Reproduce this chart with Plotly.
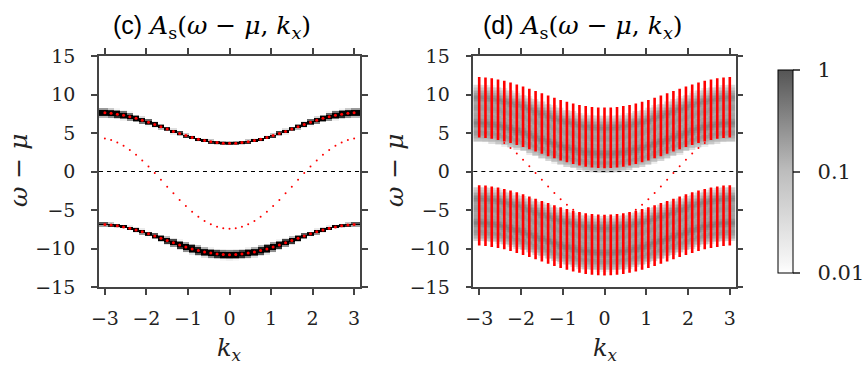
import numpy as np
import plotly.graph_objects as go

# ---------------- data ----------------
kx = [-3.0, -2.85, -2.7, -2.55, -2.4, -2.25, -2.1, -1.95, -1.8, -1.65, -1.5, -1.35, -1.2, -1.05,
      -0.9, -0.75, -0.6, -0.45, -0.3, -0.15, 0.0, 0.15, 0.3, 0.45, 0.6, 0.75, 0.9, 1.05, 1.2, 1.35,
      1.5, 1.65, 1.8, 1.95, 2.1, 2.25, 2.4, 2.55, 2.7, 2.85, 3.0]

# panel (c): band energies
upper_c = [7.62, 7.56, 7.45, 7.30, 7.12, 6.90, 6.65, 6.39, 6.10, 5.81, 5.51, 5.21, 4.93, 4.66, 4.41,
           4.19, 4.01, 3.86, 3.75, 3.68, 3.66, 3.68, 3.75, 3.86, 4.01, 4.19, 4.41, 4.66, 4.93, 5.21,
           5.51, 5.81, 6.10, 6.39, 6.65, 6.90, 7.12, 7.30, 7.45, 7.56, 7.62]
lower_c = [-6.88, -6.94, -7.05, -7.20, -7.38, -7.59, -7.84, -8.10, -8.38, -8.67, -8.97, -9.26, -9.54,
           -9.81, -10.05, -10.27, -10.46, -10.60, -10.71, -10.78, -10.80, -10.78, -10.71, -10.60,
           -10.46, -10.27, -10.05, -9.81, -9.54, -9.26, -8.97, -8.67, -8.38, -8.10, -7.84, -7.59,
           -7.38, -7.20, -7.05, -6.94, -6.88]
mid_c = [4.29, 4.10, 3.78, 3.35, 2.80, 2.16, 1.43, 0.64, -0.21, -1.08, -1.97, -2.84, -3.69, -4.49,
         -5.22, -5.87, -6.42, -6.86, -7.19, -7.38, -7.45, -7.38, -7.19, -6.86, -6.42, -5.87, -5.22,
         -4.49, -3.69, -2.84, -1.97, -1.08, -0.21, 0.64, 1.43, 2.16, 2.80, 3.35, 3.78, 4.10, 4.29]
width_upper_c = [0.20, 0.20, 0.20, 0.19, 0.18, 0.17, 0.16, 0.15, 0.13, 0.12, 0.11, 0.10, 0.09, 0.09,
                 0.09, 0.09, 0.09, 0.09, 0.09, 0.09, 0.09, 0.09, 0.09, 0.09, 0.09, 0.09, 0.09, 0.09,
                 0.09, 0.10, 0.11, 0.12, 0.13, 0.15, 0.16, 0.17, 0.18, 0.19, 0.20, 0.20, 0.20]
width_lower_c = [0.09, 0.09, 0.09, 0.09, 0.09, 0.10, 0.11, 0.12, 0.14, 0.16, 0.18, 0.19, 0.20, 0.21,
                 0.22, 0.22, 0.22, 0.22, 0.22, 0.22, 0.22, 0.22, 0.22, 0.22, 0.22, 0.22, 0.22, 0.21,
                 0.20, 0.19, 0.18, 0.16, 0.14, 0.12, 0.11, 0.10, 0.09, 0.09, 0.09, 0.09, 0.09]

# panel (d): band-cluster edges and middle band
upper_top_d = [12.28, 12.22, 12.11, 11.96, 11.77, 11.56, 11.31, 11.04, 10.75, 10.46, 10.16, 9.86, 9.58,
               9.30, 9.06, 8.84, 8.65, 8.50, 8.39, 8.32, 8.30, 8.32, 8.39, 8.50, 8.65, 8.84, 9.06,
               9.30, 9.58, 9.86, 10.16, 10.46, 10.75, 11.04, 11.31, 11.56, 11.77, 11.96, 12.11,
               12.22, 12.28]
upper_bot_d = [4.41, 4.35, 4.24, 4.09, 3.90, 3.69, 3.44, 3.17, 2.88, 2.59, 2.29, 1.99, 1.71, 1.43,
               1.19, 0.97, 0.78, 0.63, 0.52, 0.45, 0.43, 0.45, 0.52, 0.63, 0.78, 0.97, 1.19, 1.43,
               1.71, 1.99, 2.29, 2.59, 2.88, 3.17, 3.44, 3.69, 3.90, 4.09, 4.24, 4.35, 4.41]
lower_top_d = [-1.77, -1.83, -1.94, -2.08, -2.26, -2.47, -2.71, -2.96, -3.24, -3.53, -3.82, -4.10,
               -4.38, -4.64, -4.88, -5.09, -5.27, -5.42, -5.52, -5.59, -5.61, -5.59, -5.52, -5.42,
               -5.27, -5.09, -4.88, -4.64, -4.38, -4.10, -3.82, -3.53, -3.24, -2.96, -2.71, -2.47,
               -2.26, -2.08, -1.94, -1.83, -1.77]
lower_bot_d = [-9.62, -9.68, -9.79, -9.93, -10.11, -10.33, -10.57, -10.83, -11.11, -11.40, -11.69,
               -11.98, -12.26, -12.52, -12.76, -12.98, -13.16, -13.31, -13.41, -13.48, -13.50,
               -13.48, -13.41, -13.31, -13.16, -12.98, -12.76, -12.52, -12.26, -11.98, -11.69,
               -11.40, -11.11, -10.83, -10.57, -10.33, -10.11, -9.93, -9.79, -9.68, -9.62]
mid_d = [5.19, 5.00, 4.68, 4.25, 3.70, 3.06, 2.33, 1.54, 0.69, -0.18, -1.07, -1.94, -2.79, -3.59,
         -4.32, -4.97, -5.52, -5.96, -6.29, -6.48, -6.55, -6.48, -6.29, -5.96, -5.52, -4.97, -4.32,
         -3.59, -2.79, -1.94, -1.07, -0.18, 0.69, 1.54, 2.33, 3.06, 3.70, 4.25, 4.68, 5.00, 5.19]

# texture of the spectral weight inside a cluster (fraction of cluster span, relative weight)
sub_frac = [0.00, 0.05, 0.10, 0.15, 0.21, 0.26, 0.31, 0.36, 0.41, 0.46, 0.52, 0.57, 0.62, 0.67,
            0.72, 0.77, 0.82, 0.87, 0.92, 0.97]
sub_weight = [0.20, 0.30, 0.45, 0.55, 0.40, 0.65, 0.85, 0.55, 0.35, 0.45, 0.40, 0.50, 0.45, 0.35,
              0.55, 0.75, 0.50, 0.30, 0.15, 0.08]

tick_vals_x = [-3, -2, -1, 0, 1, 2, 3]
tick_text_x = ["\u22123", "\u22122", "\u22121", "0", "1", "2", "3"]
tick_vals_y = [-15, -10, -5, 0, 5, 10, 15]
tick_text_y = ["\u221215", "\u221210", "\u22125", "0", "5", "10", "15"]
cb_vals = [-2, -1, 0]
cb_text = ["  0.01", "  0.1", "  1"]

# ---------------- heatmap tables ----------------
K = np.array(kx)
mids = (K[1:] + K[:-1]) / 2
k_edges = np.concatenate([[-np.pi], mids, [np.pi]])
w_step = 0.2
w_edges = np.arange(-15.0, 15.0 + w_step / 2, w_step)
w_cent = (w_edges[1:] + w_edges[:-1]) / 2
W = w_cent[:, None]

A_c = np.zeros((len(w_cent), len(kx)))
for E, g in ((upper_c, width_upper_c), (lower_c, width_lower_c)):
    E = np.array(E)[None, :]
    g = np.array(g)[None, :]
    A_c += 3.0 * np.exp(-0.5 * ((W - E) / g) ** 2)
Z_c = np.log10(np.clip(A_c, 1e-4, None))

A_d = np.zeros((len(w_cent), len(kx)))
clusters = [
    (np.array(upper_bot_d) - 0.3, np.array(upper_top_d) - 1.0),
    (np.array(lower_bot_d) + 0.9, np.array(lower_top_d) - 0.2),
]
for lo, hi in clusters:
    for f, wgt in zip(sub_frac, sub_weight):
        E = (lo + f * (hi - lo))[None, :]
        A_d += 0.35 * wgt * np.exp(-0.5 * ((W - E) / 0.18) ** 2)
Z_d = np.log10(np.clip(A_d, 1e-4, None))

# ---------------- figure ----------------
fig = go.Figure()
fig.add_trace(go.Heatmap(x=k_edges, y=w_edges, z=Z_c, coloraxis="coloraxis",
                         xaxis="x", yaxis="y", hoverinfo="skip"))
fig.add_trace(go.Heatmap(x=k_edges, y=w_edges, z=Z_d, coloraxis="coloraxis2",
                         xaxis="x2", yaxis="y2", hoverinfo="skip"))

red = "#ff0000"
fig.add_trace(go.Scatter(x=kx, y=mid_c, mode="markers", marker=dict(size=2, color=red),
                         xaxis="x", yaxis="y", showlegend=False))
for E in (upper_c, lower_c):
    fig.add_trace(go.Scatter(x=kx, y=E, mode="markers", marker=dict(size=3, color=red),
                             xaxis="x", yaxis="y", showlegend=False))

fig.add_trace(go.Scatter(x=kx, y=mid_d, mode="markers", marker=dict(size=2, color=red),
                         xaxis="x2", yaxis="y2", showlegend=False))
bx, by = [], []
for i, k in enumerate(kx):
    for lo, hi in ((upper_bot_d[i], upper_top_d[i]), (lower_bot_d[i], lower_top_d[i])):
        bx += [k, k, None]
        by += [lo, hi, None]
fig.add_trace(go.Scatter(x=bx, y=by, mode="lines", line=dict(color=red, width=2.6),
                         xaxis="x2", yaxis="y2", showlegend=False))

serif = "DejaVu Serif"
axis_common = dict(showline=True, linecolor="#444444", linewidth=1.5, mirror="ticks",
                   ticks="outside", ticklen=6, tickwidth=1.5, tickcolor="#444444",
                   showgrid=False, zeroline=False,
                   tickfont=dict(family=serif, size=19, color="#222222"))
xd1 = [99 / 863, 360 / 863]
xd2 = [473.3 / 863, 735.7 / 863]
yd = [(368 - 287) / 368, (368 - 56) / 368]

fig.update_layout(
    width=863, height=368, margin=dict(l=0, r=0, t=0, b=0, autoexpand=False),
    paper_bgcolor="white", plot_bgcolor="white", showlegend=False,
    font=dict(family=serif),
    xaxis=dict(domain=xd1, range=[-np.pi, np.pi], tickvals=tick_vals_x, ticktext=tick_text_x,
               anchor="y", ticklabelstandoff=7, **axis_common),
    yaxis=dict(domain=yd, range=[-15, 15], tickvals=tick_vals_y, ticktext=tick_text_y,
               anchor="x", ticklabelstandoff=12, **axis_common),
    xaxis2=dict(domain=xd2, range=[-np.pi, np.pi], tickvals=tick_vals_x, ticktext=tick_text_x,
                anchor="y2", ticklabelstandoff=7, **axis_common),
    yaxis2=dict(domain=yd, range=[-15, 15], tickvals=tick_vals_y, ticktext=tick_text_y,
                anchor="x2", ticklabelstandoff=12, **axis_common),
    coloraxis=dict(cmin=-2, cmax=0,
                   colorscale=[[0, "#ffffff"], [0.4, "#d8d8d8"], [0.75, "#707070"], [1, "#000000"]],
                   showscale=False),
    coloraxis2=dict(cmin=-2, cmax=0,
                    colorscale=[[0, "#ffffff"], [0.05, "#f6f6f6"], [0.5, "#bdbdbd"], [1, "#555555"]],
                    colorbar=dict(x=768 / 863, xanchor="left", y=(368 - 171.5) / 368,
                                  yanchor="middle", len=223, lenmode="pixels", thickness=15,
                                  thicknessmode="pixels", outlinewidth=1, outlinecolor="#000000",
                                  tickvals=cb_vals, ticktext=cb_text, ticks="outside",
                                  ticklen=7, tickcolor="#555555", tickwidth=1.5,
                                  tickfont=dict(family=serif, size=21, color="#222222"))),
)

for xr, yr in (("x domain", "y"), ("x2 domain", "y2")):
    fig.add_shape(type="line", xref=xr, yref=yr, x0=0, x1=1, y0=0, y1=0,
                  line=dict(color="#000000", width=1, dash="4px,4px"), layer="above")

title_tmpl = ("<span style='font-family:Liberation Sans'>({})</span> "
              "<i>A</i><sub>s</sub>(<i>\u03c9</i> \u2212 <i>\u03bc</i>, <i>k</i><sub><i>x</i></sub>)")
ann = []
for lab, cx, axcx in (("c", 212, 230), ("d", 583, 605)):
    ann.append(dict(x=cx / 863, y=(368 - 27) / 368, xref="paper", yref="paper", showarrow=False,
                    text=title_tmpl.format(lab), xanchor="center", yanchor="middle",
                    font=dict(family=serif, size=25, color="#000000")))
    ann.append(dict(x=axcx / 863, y=(368 - 349) / 368, xref="paper", yref="paper", showarrow=False,
                    text="<i>k</i><sub><i>x</i></sub>", xanchor="center", yanchor="middle",
                    font=dict(family=serif, size=24, color="#222222")))
for cx in (18, 394):
    ann.append(dict(x=cx / 863, y=(368 - 171) / 368, xref="paper", yref="paper", showarrow=False,
                    text="<i>\u03c9</i> \u2212 <i>\u03bc</i>", textangle=-90,
                    xanchor="center", yanchor="middle",
                    font=dict(family=serif, size=25, color="#222222")))
fig.update_layout(annotations=ann)

fig.write_html("out.html")
